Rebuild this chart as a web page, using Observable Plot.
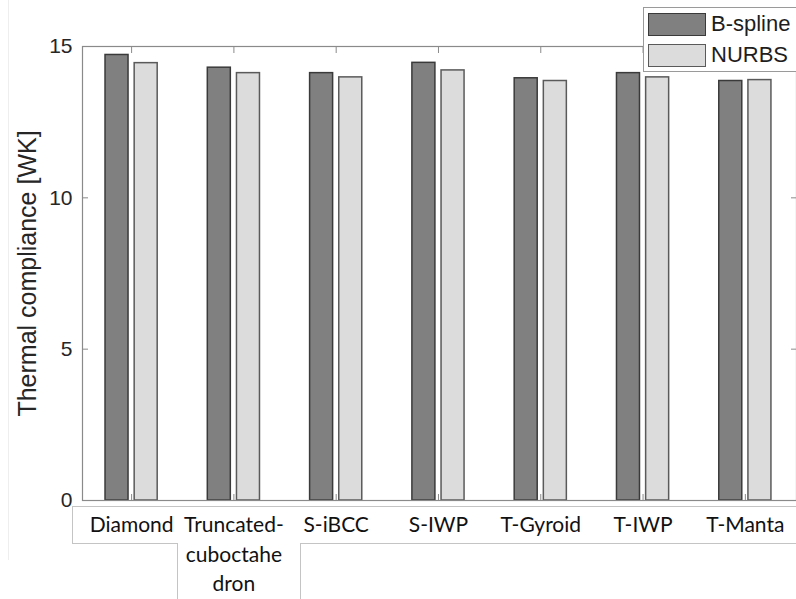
<!DOCTYPE html>
<html>
<head>
<meta charset="utf-8">
<script src="https://cdn.jsdelivr.net/npm/d3@7"></script>
<script src="https://cdn.jsdelivr.net/npm/@observablehq/plot@0.6"></script>
<style>
  html, body { margin: 0; padding: 0; background: #fff; }
  #wrap { position: relative; width: 796px; height: 599px; overflow: hidden; font-family: "Liberation Sans", Arial, sans-serif; }
  #wrap svg { position: absolute; left: 0; top: 0; }
  .ln { position: absolute; background: #c4c4c4; }
  .legend { position: absolute; left: 643px; top: 7px; width: 160px; height: 65px; border: 1px solid #9a9a9a; background: #fff; box-sizing: border-box; }
  .legend .item { position: absolute; left: 4px; height: 23px; }
  .legend .sw { position: absolute; left: 0; top: 0; width: 58px; height: 23px; box-sizing: border-box; border: 1.5px solid #404040; }
  .legend .lab { position: absolute; left: 63px; top: -3px; font-size: 22px; color: #1e1e1e; white-space: nowrap; line-height: 27px; }
</style>
</head>
<body>
<div id="wrap"></div>
<script>
// ---- data ----
const categories = ["Diamond", "Truncated-\ncuboctahe\ndron", "S-iBCC", "S-IWP", "T-Gyroid", "T-IWP", "T-Manta"];
const series = ["B-spline", "NURBS"];
const bspline = [14.72, 14.30, 14.12, 14.46, 13.95, 14.12, 13.86];
const nurbs   = [14.45, 14.12, 13.98, 14.21, 13.86, 13.98, 13.89];
const yTicks = [0, 5, 10, 15];
const yLabel = "Thermal compliance [WK]";

// ---- styles ----
const fills = {"B-spline": "#808080", "NURBS": "#dcdcdc"};
const strokes = {"B-spline": "#3a3a3a", "NURBS": "#5a5a5a"};
const barW = 0.225, gap = 0.03;

const rows = [];
categories.forEach((c, i) => {
  rows.push({cat: c, pos: i + 1, series: "B-spline", value: bspline[i]});
  rows.push({cat: c, pos: i + 1, series: "NURBS", value: nurbs[i]});
});
const groupPos = categories.map((c, i) => ({cat: c, pos: i + 1}));

const axisColor = "#8a8a8a";
const textColor = "#262626";

const chart = Plot.plot({
  width: 796,
  height: 599,
  marginLeft: 82,
  marginRight: 0,
  marginTop: 46,
  marginBottom: 99,
  style: {fontFamily: "Liberation Sans, Arial, sans-serif", background: "transparent"},
  x: {type: "linear", domain: [0.52, 7.5]},
  y: {domain: [0, 15]},
  marks: [
    Plot.rectY(rows, {
      x1: d => d.series === "B-spline" ? d.pos - gap - barW : d.pos + gap,
      x2: d => d.series === "B-spline" ? d.pos - gap : d.pos + gap + barW,
      y1: 0,
      y2: "value",
      fill: d => fills[d.series],
      stroke: d => strokes[d.series],
      strokeWidth: 1.5
    }),
    Plot.frame({stroke: axisColor, strokeWidth: 1.2}),
    // inward tick marks (MATLAB style box)
    Plot.axisY({ticks: yTicks, anchor: "left", tickSize: -6, fill: "none", stroke: axisColor, label: null}),
    Plot.axisY({ticks: yTicks, anchor: "right", tickSize: -6, fill: "none", stroke: axisColor, label: null}),
    Plot.axisX({ticks: groupPos.map(d => d.pos), anchor: "top", tickSize: -6, fill: "none", stroke: axisColor, label: null}),
    Plot.axisX({ticks: groupPos.map(d => d.pos), anchor: "bottom", tickSize: -6, fill: "none", stroke: axisColor, label: null}),
    // y tick labels
    Plot.axisY({ticks: yTicks, anchor: "left", tickSize: 0, tickPadding: 10, fontSize: 21, fill: textColor, stroke: "none", label: null}),
    // y axis title
    Plot.text([yLabel], {frameAnchor: "left", dx: -55, rotate: -90, textAnchor: "middle", fontSize: 25, fill: textColor, text: d => d}),
    // category labels (table-like row under the axis)
    Plot.text(groupPos, {
      x: "pos", frameAnchor: "bottom", dy: 11, text: "cat",
      lineAnchor: "top", lineHeight: 1.4, fontSize: 21,
      fontFamily: "Lato, Open Sans, sans-serif", fill: "#111"
    })
  ]
});
const wrap = document.getElementById("wrap");
wrap.appendChild(chart);

// table grid lines around the category labels
function line(l, t, w, h) {
  const d = document.createElement("div");
  d.className = "ln";
  Object.assign(d.style, {left: l + "px", top: t + "px", width: w + "px", height: h + "px"});
  wrap.appendChild(d);
}
line(72, 506, 724, 1);
line(72, 543, 106, 1);
line(300, 543, 496, 1);
line(72, 506, 1, 38);
line(177, 543, 1, 56);
line(300, 543, 1, 56);
// faint page edge line
const e = document.createElement("div");
e.className = "ln";
Object.assign(e.style, {left: "8px", top: "0px", width: "1px", height: "560px", background: "#eeeeee"});
wrap.appendChild(e);

// legend
const lg = document.createElement("div");
lg.className = "legend";
series.forEach((s, i) => {
  const it = document.createElement("div");
  it.className = "item";
  it.style.top = (5 + i * 31) + "px";
  const sw = document.createElement("div");
  sw.className = "sw";
  sw.style.background = fills[s];
  sw.style.borderColor = strokes[s];
  const lab = document.createElement("div");
  lab.className = "lab";
  lab.textContent = s;
  it.appendChild(sw);
  it.appendChild(lab);
  lg.appendChild(it);
});
wrap.appendChild(lg);
</script>
</body>
</html>
